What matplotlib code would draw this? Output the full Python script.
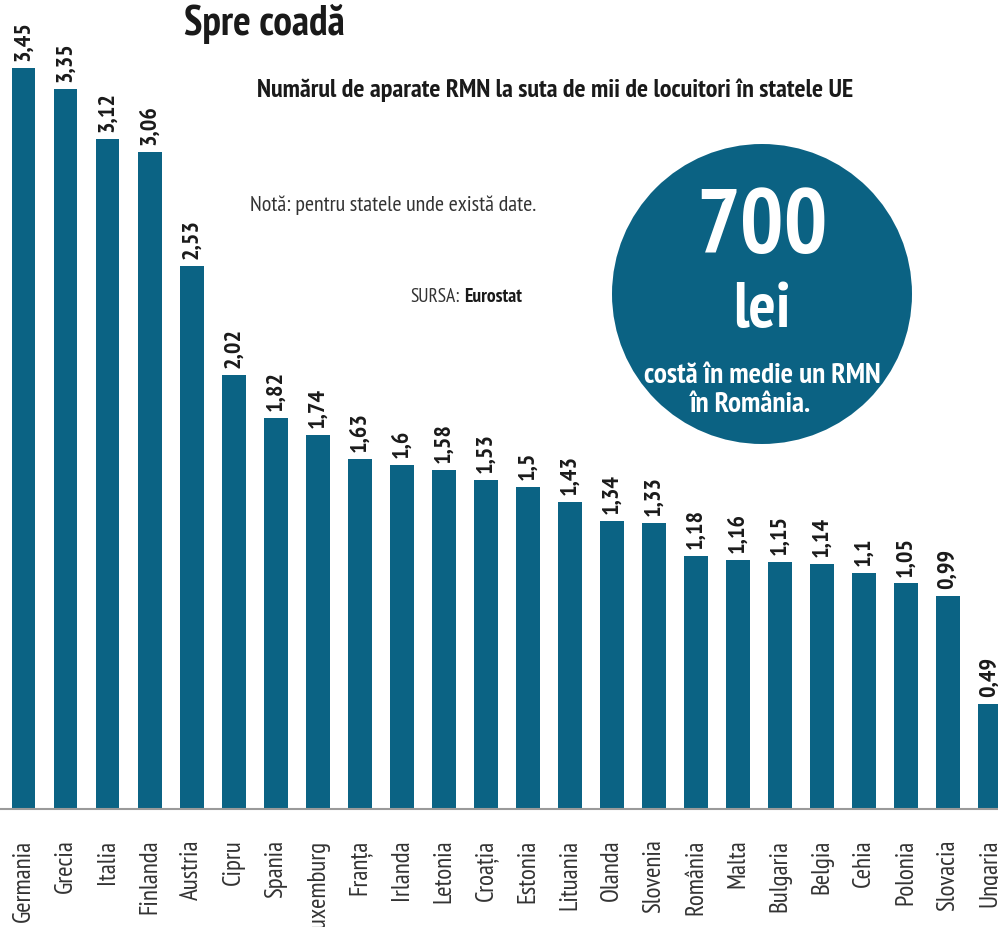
import matplotlib
matplotlib.use("Agg")
import matplotlib.pyplot as plt
from matplotlib.patches import Circle

countries = ["Germania", "Grecia", "Italia", "Finlanda", "Austria", "Cipru", "Spania",
             "Luxemburg", "Franța", "Irlanda", "Letonia", "Croația", "Estonia", "Lituania",
             "Olanda", "Slovenia", "România", "Malta", "Bulgaria", "Belgia", "Cehia",
             "Polonia", "Slovacia", "Ungaria"]
values = [3.45, 3.35, 3.12, 3.06, 2.53, 2.02, 1.82, 1.74, 1.63, 1.6, 1.58, 1.53, 1.5, 1.43,
          1.34, 1.33, 1.18, 1.16, 1.15, 1.14, 1.1, 1.05, 0.99, 0.49]
value_labels = ["3,45", "3,35", "3,12", "3,06", "2,53", "2,02", "1,82", "1,74", "1,63", "1,6",
                "1,58", "1,53", "1,5", "1,43", "1,34", "1,33", "1,18", "1,16", "1,15", "1,14",
                "1,1", "1,05", "0,99", "0,49"]

FN = ["PT Sans Narrow", "DejaVu Sans"]
BAR = "#0b6384"

W, H = 998, 927
fig = plt.figure(figsize=(W / 100, H / 100), dpi=100)
fig.patch.set_facecolor("white")

base_px = 809
ax = fig.add_axes([0.0, (H - base_px) / H, 1.0, base_px / H])
x = list(range(len(countries)))
ax.bar(x, values, width=0.57, color=BAR, zorder=2)
ax.set_xlim(-0.56, 23.2)
ax.set_ylim(0, base_px / 214.8)
for s in ["top", "left", "right"]:
    ax.spines[s].set_visible(False)
ax.spines["bottom"].set_color("#9a9a9a")
ax.spines["bottom"].set_linewidth(1.5)
ax.set_yticks([])
ax.set_xticks(x)
ax.set_xticklabels(countries, rotation=90, fontfamily=FN, fontsize=18, color="#333333",
                   va="top", ha="center")
ax.tick_params(axis="x", length=0, pad=22)

for xi, v, lab in zip(x, values, value_labels):
    ax.annotate(lab, (xi, v), xytext=(0, 5), textcoords="offset points",
                rotation=90, ha="center", va="bottom", fontfamily=FN,
                fontweight="bold", fontsize=17.5, color="#1a1a1a")

# titles
fig.text(184 / W, 1 - 24 / H, "Spre coadă", fontfamily=FN, fontweight="bold",
         fontsize=30, color="#1a1a1a", ha="left", va="center")
fig.text(257 / W, 1 - 90 / H, "Numărul de aparate RMN la suta de mii de locuitori în statele UE",
         fontfamily=FN, fontweight="bold", fontsize=18.8, color="#1a1a1a", ha="left", va="center")
fig.text(250 / W, 1 - 205 / H, "Notă: pentru statele unde există date.",
         fontfamily=FN, fontsize=15.8, color="#333333", ha="left", va="center")
fig.text(410 / W, 1 - 297 / H, "SURSA:", fontfamily=FN, fontsize=14,
         color="#333333", ha="left", va="center")
fig.text(464 / W, 1 - 297 / H, "Eurostat", fontfamily=FN, fontsize=14, fontweight="bold",
         color="#1a1a1a", ha="left", va="center")

# circle annotation (figure pixel coordinates)
circ = Circle((762, H - 294), 150, transform=None, facecolor="#0b6283", edgecolor="none",
              zorder=5)
fig.patches.append(circ)
fig.text(762 / W, 1 - 230 / H, "700", fontfamily=FN, fontweight="bold", fontsize=66,
         color="white", ha="center", va="center", zorder=6)
fig.text(762 / W, 1 - 311 / H, "lei", fontfamily=FN, fontweight="bold", fontsize=46,
         color="white", ha="center", va="center", zorder=6)
fig.text(762 / W, 1 - 376 / H, "costă în medie un RMN", fontfamily=FN, fontweight="bold",
         fontsize=21, color="white", ha="center", va="center", zorder=6)
fig.text(750 / W, 1 - 405 / H, "în România.", fontfamily=FN, fontweight="bold",
         fontsize=21, color="white", ha="center", va="center", zorder=6)

fig.savefig("out.png", dpi=100, facecolor="white")
